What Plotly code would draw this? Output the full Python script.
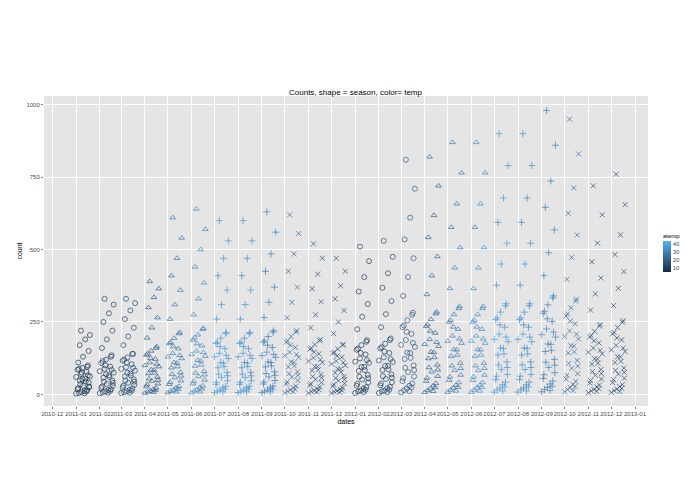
import plotly.graph_objects as go

months = ["2011-01","2011-02","2011-03","2011-04","2011-05","2011-06","2011-07","2011-08","2011-09","2011-10","2011-11","2011-12",
          "2012-01","2012-02","2012-03","2012-04","2012-05","2012-06","2012-07","2012-08","2012-09","2012-10","2012-11","2012-12"]
seasons = ["spring"]*3+["summer"]*3+["fall"]*3+["winter"]*3
seasons = seasons*2
atemp = [8,11,14,20,27,32,37,35,30,23,16,14, 11,13,19,22,28,33,37,34,30,23,15,15]
counts = [
 [3,8,15,22,30,41,48,55,62,70,78,85,92,100,5,12,25,35,45,60,75,95,110,130,150,170,190,205,220,10,18,52,66,88,4,27],
 [4,10,18,27,36,48,58,66,75,88,96,108,120,135,7,15,30,44,60,80,100,130,160,190,220,250,280,310,330,12,22,70,85,115,6,40],
 [5,11,20,30,40,52,62,72,82,94,104,116,128,140,8,16,33,48,65,88,110,140,170,200,230,260,290,315,330,13,24,75,92,120,6,44],
 [5,12,22,34,46,60,72,84,96,110,122,136,150,165,9,18,37,54,74,100,125,160,195,230,265,300,335,365,390,14,27,85,105,140,7,50],
 [6,15,28,42,58,76,92,108,124,142,158,176,194,214,11,23,47,70,96,130,165,210,260,310,360,410,470,540,610,18,35,110,135,180,9,64],
 [6,16,30,45,62,80,98,115,132,150,168,188,206,228,12,24,50,74,102,138,175,225,275,330,385,440,500,570,640,19,37,118,145,195,9,68],
 [6,15,28,42,58,76,92,108,124,142,158,176,194,214,11,23,47,70,96,130,165,210,260,310,360,410,470,530,600,18,35,110,135,180,9,64],
 [6,15,28,42,58,76,92,108,124,142,158,176,194,214,11,23,47,70,96,130,165,210,260,310,360,410,470,530,600,18,35,110,135,180,9,64],
 [6,15,29,43,60,78,95,110,128,146,162,180,200,220,11,23,48,72,98,134,170,215,265,318,370,425,485,560,630,18,36,112,138,185,9,66],
 [6,15,29,43,60,78,95,110,128,146,162,180,200,220,11,23,48,72,98,134,170,215,265,318,370,425,485,555,620,18,36,112,138,185,9,66],
 [5,13,25,37,52,68,82,96,110,126,140,156,172,190,10,20,41,62,85,115,146,185,230,275,320,365,415,470,520,16,31,96,120,160,8,57],
 [5,12,23,34,47,62,75,88,100,115,128,142,157,173,9,18,38,56,77,105,133,170,210,250,290,330,375,425,470,14,28,88,110,146,7,52],
 [5,13,25,37,51,67,81,95,109,124,138,154,170,187,10,20,41,61,84,113,143,182,225,268,312,355,405,460,510,16,30,95,118,158,8,56],
 [5,13,26,38,53,69,84,98,112,128,143,159,175,193,10,21,42,63,87,117,148,188,232,277,322,368,418,475,530,16,31,98,122,163,8,58],
 [7,20,38,56,77,100,122,143,164,188,209,232,256,282,14,30,62,92,126,171,216,275,340,405,470,535,610,710,810,24,46,144,178,238,11,84],
 [7,20,38,57,78,102,124,145,166,190,212,235,259,285,14,30,63,93,128,173,219,279,345,410,476,542,618,720,820,24,46,146,180,241,11,85],
 [8,22,41,61,83,108,132,154,177,202,225,250,276,304,15,32,67,99,136,184,233,297,366,437,507,577,658,765,870,25,49,155,192,256,12,90],
 [8,22,41,61,83,108,132,154,177,202,225,250,276,304,15,32,67,99,136,184,233,297,366,437,507,577,658,765,870,25,49,155,192,256,12,90],
 [8,22,42,63,86,112,136,159,182,208,232,258,284,313,16,33,69,102,140,190,240,306,377,450,522,594,678,790,900,26,51,160,198,264,12,93],
 [8,22,42,63,86,112,136,159,182,208,232,258,284,313,16,33,69,102,140,190,240,306,377,450,522,594,678,790,900,26,51,160,198,264,12,93],
 [9,24,46,68,93,121,148,173,198,226,252,280,309,340,17,36,75,111,152,206,261,333,410,489,568,646,737,860,980,28,55,174,215,287,13,101],
 [9,24,45,66,90,117,143,167,191,219,244,271,299,329,17,35,72,107,147,200,253,322,397,473,550,625,713,830,950,27,53,168,208,278,13,98],
 [6,17,32,48,66,86,104,122,140,160,178,198,218,241,12,26,53,79,108,146,185,236,291,347,402,458,522,620,720,20,39,123,152,203,10,72],
 [7,18,34,51,70,91,110,129,148,169,188,209,231,254,13,27,56,83,114,154,195,249,307,366,424,483,551,655,760,21,41,130,160,214,10,76],
]
days = [1,2,3,4,5,6,7,8,9,10,11,12,13,14,15,16,17,18,19]
hours = [0,7,13,19,4,10,16,22,2,8,15,21,5,11,17,23,1,9,14]

symbols = {"spring":"circle-open","summer":"triangle-up-open","fall":"cross-thin-open","winter":"x-thin-open"}
xs, ys, cs, ss = [], [], [], []
for m, season, t, vals in zip(months, seasons, atemp, counts):
    for i, v in enumerate(vals):
        d = days[(i*7) % len(days)]
        h = hours[i % len(hours)]
        xs.append(f"{m}-{d:02d} {h:02d}:00")
        ys.append(v)
        cs.append(t + (i % 5) - 2)
        ss.append(symbols[season])

fig = go.Figure(go.Scatter(
    x=xs, y=ys, mode="markers",
    marker=dict(symbol=ss, color=cs, size=5, line=dict(width=0.7),
                colorscale=[[0,"#132B43"],[1,"#56B1F7"]], cmin=5, cmax=44,
                colorbar=dict(title=dict(text="atemp", font=dict(size=6, color="black")), tickfont=dict(size=6, color="#4d4d4d"),
                              tickvals=[10,20,30,40], lenmode="pixels", len=62, thickness=8, x=1.01, xanchor="left",
                              y=0.5, yanchor="middle", outlinewidth=0, ticks="")),
    showlegend=False))

fig.update_layout(
    width=695, height=494, paper_bgcolor="white", plot_bgcolor="#E5E5E5",
    margin=dict(l=22, r=40, t=88, b=96),
    title=dict(text="Counts, shape = season, color= temp", x=0.5, y=0.835, font=dict(size=8, color="black")),
    font=dict(family="Liberation Sans, Arial", size=6, color="#4d4d4d"),
    xaxis=dict(title=dict(text="dates", font=dict(size=7, color="black"), standoff=2),
               range=["2010-11-20","2013-01-18"], dtick="M1", tick0="2010-12-01", tickformat="%Y-%m", tickangle=0,
               gridcolor="white", zeroline=False, ticks="outside", ticklen=2, tickcolor="#7f7f7f"),
    yaxis=dict(title=dict(text="count", font=dict(size=7, color="black"), standoff=2),
               range=[-40, 1030], tickvals=[0,250,500,750,1000],
               gridcolor="white", zeroline=False, ticks="outside", ticklen=2, tickcolor="#7f7f7f"),
)
fig.write_html("out.html")
